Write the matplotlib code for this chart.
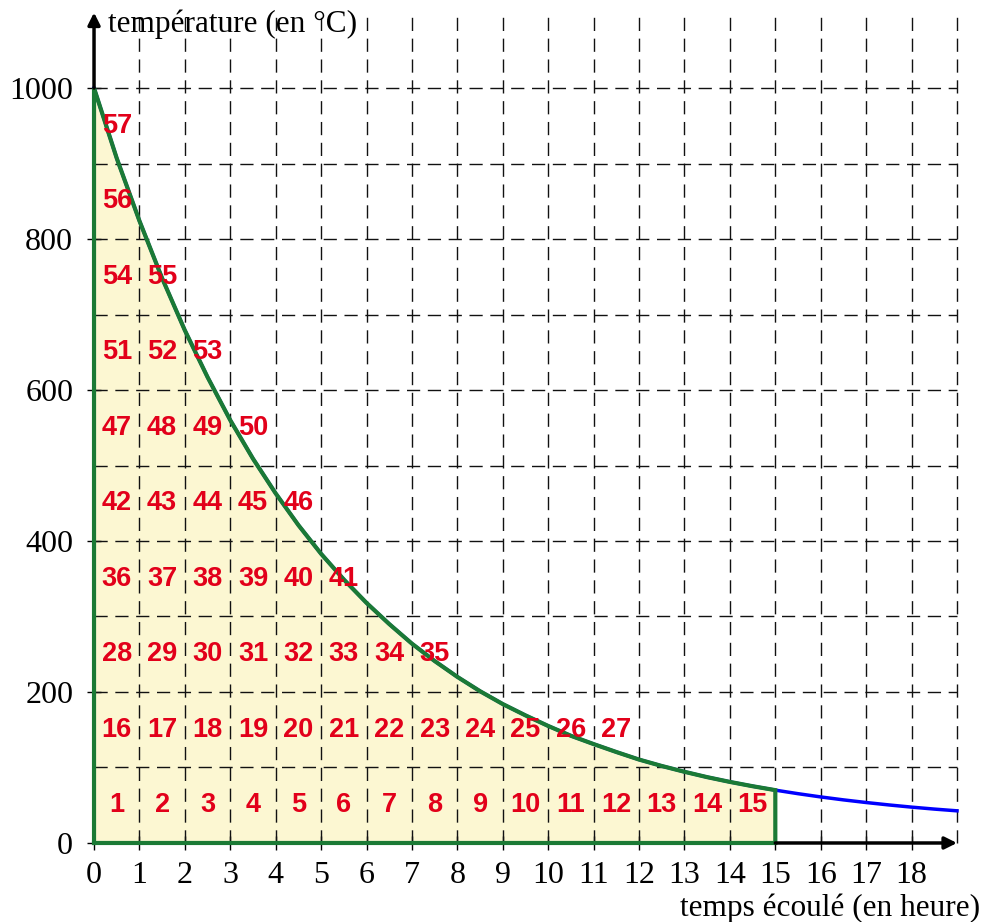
import matplotlib.pyplot as plt

# curve (hours, temperature in degC)
hours = [0, 0.5, 1, 1.5, 2, 2.5, 3, 3.5, 4, 4.5, 5, 5.5, 6, 6.5, 7, 7.5, 8, 8.5,
         9, 9.5, 10, 10.5, 11, 11.5, 12, 12.5, 13, 13.5, 14, 14.5, 15, 15.5,
         16, 16.5, 17, 17.5, 18, 18.5, 19]
temps = [1000, 907, 824, 748, 679, 617, 560, 509, 463, 421, 383, 349, 318, 290,
         264, 241, 220, 201, 184, 169, 155, 142, 131, 120.5, 110.5, 102, 94.3,
         87.2, 80.9, 75.2, 70.0, 65.3, 61.0, 57.1, 53.6, 50.4, 47.5, 44.9, 42.6]
t_stop = 15

# number of counted squares in each 100 degC row
row_counts = [15, 12, 8, 6, 5, 4, 3, 2, 1, 1]

x_ticks = list(range(0, 19))
y_ticks = [0, 200, 400, 600, 800, 1000]

plt.rcParams["font.family"] = ["Liberation Serif", "DejaVu Serif"]

fig = plt.figure(figsize=(9.95, 9.22), dpi=100)
ax = fig.add_axes([0.0945, 0.0857, 0.8673, 0.9007])
ax.set_xlim(0, 19)
ax.set_ylim(0, 1100)
for s in ax.spines.values():
    s.set_visible(False)

# --------------------------------------------------
# area under the curve up to t_stop
# --------------------------------------------------
h_in = [h for h in hours if h <= t_stop]
t_in = temps[:len(h_in)]
ax.fill_between(h_in, 0, t_in, color="#fcf7d2", zorder=1)

# --------------------------------------------------
# dashed grid
# --------------------------------------------------
dash = (0, (9.5, 5.5))
ax.vlines(range(1, 20), 0, 1100, colors="#111111", linestyles=[dash], lw=1.0,
          zorder=2, clip_on=False)
ax.hlines(range(100, 1001, 100), 0, 19, colors="#111111", linestyles=[dash],
          lw=1.0, zorder=2, clip_on=False)

# --------------------------------------------------
# curves
# --------------------------------------------------
ax.plot(hours, temps, color="#0000ff", lw=2.5, zorder=3, clip_on=False)
outline_x = [0] + h_in + [t_stop, 0]
outline_y = [0] + t_in + [0, 0]
ax.plot(outline_x, outline_y, color="#1b7a35", lw=3, zorder=4,
        solid_joinstyle="miter", clip_on=False)

# --------------------------------------------------
# square numbers
# --------------------------------------------------
n = 1
for row, count in enumerate(row_counts):
    for i in range(count):
        ax.text(i + 0.5, row * 100 + 50, str(n), color="#e2001a",
                fontsize=19.5, fontweight="bold", family="Liberation Sans",
                ha="center", va="center", zorder=5)
        n += 1

# --------------------------------------------------
# axes with arrows
# --------------------------------------------------
ax.annotate("", xy=(19, 0), xytext=(t_stop, 0),
            arrowprops=dict(arrowstyle="-|>", lw=2.5, color="black",
                            mutation_scale=18, shrinkA=0, shrinkB=0),
            zorder=6, annotation_clip=False)
ax.annotate("", xy=(0, 1100), xytext=(0, 1000),
            arrowprops=dict(arrowstyle="-|>", lw=2.5, color="black",
                            mutation_scale=18, shrinkA=0, shrinkB=0),
            zorder=6, annotation_clip=False)

ax.set_xticks(x_ticks)
ax.set_yticks(y_ticks)
ax.tick_params(direction="inout", length=10, width=1, labelsize=23)
ax.tick_params(axis="x", pad=8)
ax.tick_params(axis="y", pad=10)

ax.text(0.3, 1085, "température (en °C)", fontsize=22.5, ha="left", va="center")
ax.text(19.5, -87, "temps écoulé (en heure)", fontsize=22.5, ha="right",
        va="center", clip_on=False)

fig.savefig("out.png", dpi=100)
